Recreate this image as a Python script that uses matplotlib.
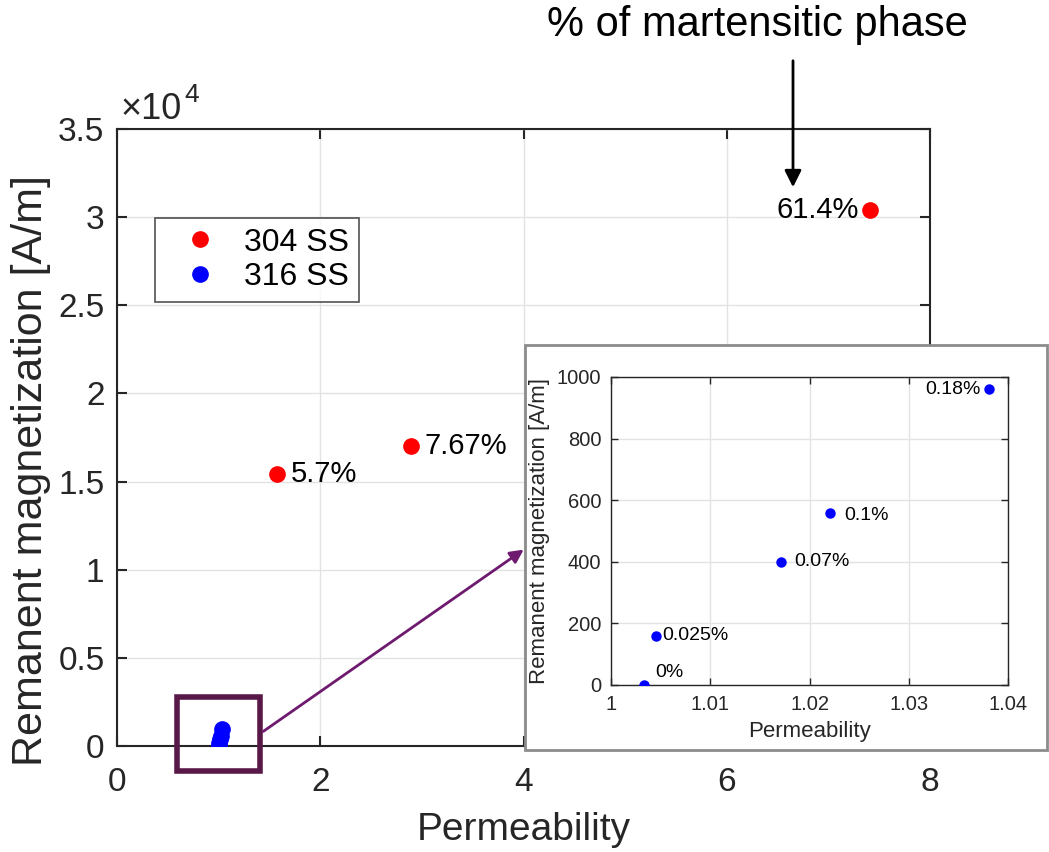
import matplotlib
matplotlib.use("Agg")
import matplotlib.pyplot as plt
import matplotlib.ticker as ticker
from matplotlib.patches import Rectangle

plt.rcParams['font.family'] = ['Liberation Sans', 'DejaVu Sans']

# 304 SS (main plot)
perm_304 = [1.57, 2.89, 7.41]
rem_304 = [15440, 17040, 30400]
lab_304 = ['5.7%', '7.67%', '61.4%']

# 316 SS (shown in main plot and in the zoom inset)
perm_316 = [1.0033, 1.0045, 1.0171, 1.0221, 1.0381]
rem_316 = [0, 160, 400, 560, 960]
lab_316 = ['0%', '0.025%', '0.07%', '0.1%', '0.18%']

W, H = 1049, 852
fig = plt.figure(figsize=(W / 100, H / 100), dpi=100)

def fx(px):
    return px / W

def fy(py):
    return 1 - py / H

grid_c = '#e3e3e3'
spine_c = '#262626'

# main axes
ax = fig.add_axes([fx(117), fy(746), fx(930) - fx(117), fy(129) - fy(746)])
ax.plot(perm_304, rem_304, 'o', color='red', ms=11, label='304 SS', zorder=3)
ax.plot(perm_316, rem_316, 'o', color='blue', ms=11, label='316 SS', zorder=3)
ax.set_xlim(0, 8)
ax.set_ylim(0, 35000)
ax.xaxis.set_major_locator(ticker.MultipleLocator(2))
ax.yaxis.set_major_locator(ticker.MultipleLocator(5000))
ax.yaxis.set_major_formatter(ticker.FuncFormatter(lambda v, p: '%g' % (v / 1e4)))
ax.grid(True, color=grid_c, lw=1)
ax.set_axisbelow(True)
ax.tick_params(direction='in', length=7, width=1.5, top=True, right=True,
               labelsize=24, colors=spine_c, pad=9)
ax.tick_params(axis='x', pad=15)
for s in ax.spines.values():
    s.set_color(spine_c)
    s.set_linewidth(1.5)
ax.set_xlabel('Permeability', fontsize=28, color=spine_c, labelpad=10)
ax.set_ylabel('Remanent magnetization [A/m]', fontsize=31, color=spine_c)
ax.yaxis.set_label_coords((51 - 117) / 813, (746 - 471) / 617)
fig.text(fx(120), fy(119), '×10', fontsize=26, color=spine_c, ha='left', va='baseline')
fig.text(fx(184), fy(102), '4', fontsize=19, color=spine_c, ha='left', va='baseline')

# labels of 304 SS points
ax.annotate(lab_304[0], (perm_304[0], rem_304[0]), xytext=(10, 0),
            textcoords='offset points', fontsize=21, va='center', ha='left')
ax.annotate(lab_304[1], (perm_304[1], rem_304[1]), xytext=(10, 0),
            textcoords='offset points', fontsize=21, va='center', ha='left')
ax.annotate(lab_304[2], (perm_304[2], rem_304[2]), xytext=(-8, 0),
            textcoords='offset points', fontsize=21, va='center', ha='right')

leg = ax.legend(loc='upper left', bbox_to_anchor=((155 - 117) / 813, 1 - (218 - 129) / 617),
                bbox_transform=ax.transAxes, fontsize=23, frameon=True, fancybox=False,
                edgecolor=spine_c, handletextpad=0.3, borderpad=0.3, labelspacing=0.15,
                markerscale=1.0, handlelength=2.2, borderaxespad=0)
leg.get_frame().set_linewidth(1.2)

# zoom rectangle around 316 SS points
ax.add_patch(Rectangle((0.59, -1420), 0.82, 4200, fill=False, ec='#581848',
                       lw=4, clip_on=False, zorder=4))

# top annotation
fig.text(fx(757), fy(25), '% of martensitic phase', fontsize=30, ha='center', va='center')
fig.patches.append(matplotlib.patches.FancyArrowPatch(
    (fx(793), fy(58)), (fx(793), fy(190)), transform=fig.transFigure,
    arrowstyle='-|>', mutation_scale=25, lw=2, color='black'))

# inset panel
panel = Rectangle((fx(525), fy(750)), fx(1047) - fx(525), fy(345) - fy(750),
                  transform=fig.transFigure, fc='white', ec='#8c8c8c', lw=2, zorder=5)
fig.patches.append(panel)

# arrow from rectangle to inset
fig.patches.append(matplotlib.patches.FancyArrowPatch(
    (fx(261), fy(733)), (fx(526), fy(548)), transform=fig.transFigure,
    arrowstyle='-|>', mutation_scale=20, lw=2, color='#6e1a6e', zorder=6))

axi = fig.add_axes([fx(611), fy(685), fx(1008) - fx(611), fy(377) - fy(685)])
axi.set_zorder(10)
axi.plot(perm_316, rem_316, 'o', color='blue', ms=6.5, zorder=3)
axi.set_xlim(1, 1.04)
axi.set_ylim(0, 1000)
axi.xaxis.set_major_locator(ticker.MultipleLocator(0.01))
axi.yaxis.set_major_locator(ticker.MultipleLocator(200))
axi.xaxis.set_major_formatter(ticker.FuncFormatter(lambda v, p: '%g' % round(v, 3)))
axi.grid(True, color=grid_c, lw=1)
axi.set_axisbelow(True)
axi.tick_params(direction='in', length=5, width=1, top=True, right=True,
                labelsize=14.5, colors=spine_c, pad=7)
for s in axi.spines.values():
    s.set_color(spine_c)
    s.set_linewidth(1)
axi.set_xlabel('Permeability', fontsize=16, color=spine_c, labelpad=5)
axi.set_ylabel('Remanent magnetization [A/m]', fontsize=16, color=spine_c, labelpad=5)

offs = [(8, 3, 'left', 'bottom'), (5, 0, 'left', 'center'), (10, 0, 'left', 'center'),
        (10, -2, 'left', 'center'), (-6, 0, 'right', 'center')]
for xv, yv, t, (dx, dy, ha, va) in zip(perm_316, rem_316, lab_316, offs):
    axi.annotate(t, (xv, yv), xytext=(dx, dy), textcoords='offset points',
                 fontsize=14, ha=ha, va=va)

fig.savefig('out.png', dpi=100, facecolor='white')
